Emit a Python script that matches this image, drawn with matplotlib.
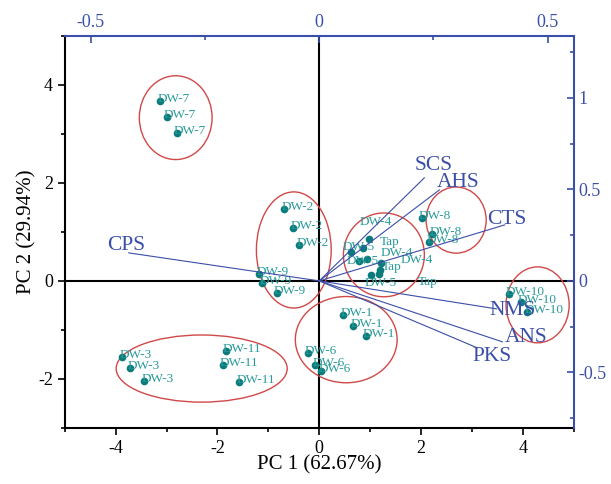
import matplotlib.pyplot as plt
from matplotlib.patches import Ellipse

plt.rcParams["font.family"] = ["Liberation Serif", "DejaVu Serif"]
plt.rcParams["axes.unicode_minus"] = False

# PCA scores (PC1, PC2)
score_labels = ["DW-7", "DW-7", "DW-7",
                "DW-2", "DW-2", "DW-2",
                "DW-9", "DW-9", "DW-9",
                "DW-1", "DW-1", "DW-1",
                "DW-6", "DW-6", "DW-6",
                "DW-3", "DW-3", "DW-3",
                "DW-11", "DW-11", "DW-11",
                "DW-8", "DW-8", "DW-8",
                "Tap", "DW-4", "DW-5", "DW-5", "DW-4", "DW-4", "Tap", "Tap", "DW-5",
                "DW-10", "DW-10", "DW-10"]
pc1 = [-3.12, -3.00, -2.80,
       -0.69, -0.51, -0.39,
       -1.18, -1.12, -0.83,
       0.47, 0.67, 0.92,
       -0.22, -0.08, 0.04,
       -3.87, -3.71, -3.44,
       -1.83, -1.89, -1.57,
       2.02, 2.22, 2.16,
       0.97, 0.85, 0.62, 0.79, 0.94, 1.21, 1.19, 1.17, 1.02,
       3.73, 3.96, 4.09]
pc2 = [3.67, 3.35, 3.02,
       1.47, 1.08, 0.73,
       0.14, -0.04, -0.24,
       -0.69, -0.92, -1.12,
       -1.47, -1.71, -1.84,
       -1.55, -1.78, -2.04,
       -1.43, -1.71, -2.06,
       1.29, 0.96, 0.80,
       0.86, 0.67, 0.59, 0.41, 0.45, 0.37, 0.22, 0.14, 0.12,
       -0.27, -0.44, -0.63]

# loadings (top / right axes)
load_names = ["CPS", "SCS", "AHS", "CTS", "NMS", "ANS", "PKS"]
load_x = [-0.417, 0.230, 0.263, 0.406, 0.388, 0.401, 0.346]
load_y = [0.153, 0.563, 0.497, 0.306, -0.153, -0.333, -0.366]

# group ellipses: centre x, centre y, width, height (score units)
ell_cx = [-2.82, -0.50, 1.27, 2.69, 0.53, -2.31, 4.29]
ell_cy = [3.33, 0.63, 0.53, 1.24, -1.20, -1.79, -0.49]
ell_w = [1.43, 1.47, 1.59, 1.18, 2.00, 3.36, 1.24]
ell_h = [1.71, 2.37, 1.71, 1.35, 1.76, 1.37, 1.55]

TEAL = "#0a7b7b"
TEAL_TXT = "#2a9a9a"
BLUE = "#3b4ea8"
RED = "#d04848"
PX = 0.72  # pixels -> points at dpi 100

# label offsets in pixels (dx, dy up); default for most points
lab_off = [(-3, 2)] * 24 + [(11, -3), (-3, 26), (-8, 5), (-13, 0), (14, 6),
                            (20, 3), (2, 3), (39, -8), (-7, -8)] + [(-3, 2)] * 3
load_off = [(-22, 7), (-10, 12), (-3, 7), (-18, 5), (-7, -2), (2, 4), (-5, -9)]

fig = plt.figure(figsize=(6.11, 4.84), dpi=100)
rect = [0.106, 0.116, 0.833, 0.810]
ax = fig.add_axes(rect)
ax.set_xlim(-5, 5)
ax.set_ylim(-3, 5)

ax.axhline(0, color="black", lw=1.5, zorder=1)
ax.axvline(0, color="black", lw=1.5, zorder=1)

for cx, cy, w, h in zip(ell_cx, ell_cy, ell_w, ell_h):
    ax.add_patch(Ellipse((cx, cy), w, h, fill=False, ec=RED, lw=1.0, zorder=2))

ax.plot(pc1, pc2, "o", color=TEAL, ms=4.5, zorder=4)
for x, y, lab, (dx, dy) in zip(pc1, pc2, score_labels, lab_off):
    ax.annotate(lab, (x, y), xytext=(dx * PX, dy * PX), textcoords="offset points",
                ha="left", va="center", fontsize=9.5, color=TEAL_TXT, zorder=5)

ax.set_xticks([-4, -2, 0, 2, 4])
ax.set_xticks([-5, -3, -1, 1, 3, 5], minor=True)
ax.set_yticks([-2, 0, 2, 4])
ax.set_yticks([-3, -1, 1, 3, 5], minor=True)
ax.tick_params(which="both", direction="out", labelsize=13, width=1.2)
ax.tick_params(which="major", length=5)
ax.tick_params(which="minor", length=3)
ax.spines["top"].set_visible(False)
ax.spines["right"].set_visible(False)
for s in ["left", "bottom"]:
    ax.spines[s].set_linewidth(1.5)
ax.set_xlabel("PC 1 (62.67%)", fontsize=15, labelpad=-1)
ax.set_ylabel("PC 2 (29.94%)", fontsize=15, labelpad=1)

# loading axes on top / right
ax2 = fig.add_axes(rect, facecolor="none")
ax2.set_xlim(-0.557, 0.557)
ax2.set_ylim(-0.803, 1.339)
for nm, lx, ly, (dx, dy) in zip(load_names, load_x, load_y, load_off):
    ax2.plot([0, lx], [0, ly], color=BLUE, lw=0.8, zorder=3)
    ax2.annotate(nm, (lx, ly), xytext=(dx * PX, dy * PX), textcoords="offset points",
                 ha="left", va="center", fontsize=15.5, color=BLUE)
ax2.xaxis.tick_top()
ax2.yaxis.tick_right()
ax2.set_xticks([-0.5, 0, 0.5])
ax2.set_xticklabels(["-0.5", "0", "0.5"])
ax2.set_xticks([-0.25, 0.25], minor=True)
ax2.set_yticks([-0.5, 0, 0.5, 1])
ax2.set_yticklabels(["-0.5", "0", "0.5", "1"])
ax2.set_yticks([-0.75, -0.25, 0.25, 0.75, 1.25], minor=True)
ax2.tick_params(which="both", direction="in", colors=BLUE, labelsize=13, width=1.2)
ax2.tick_params(which="major", length=5)
ax2.tick_params(which="minor", length=3)
ax2.spines["left"].set_visible(False)
ax2.spines["bottom"].set_visible(False)
for s in ["top", "right"]:
    ax2.spines[s].set_color(BLUE)
    ax2.spines[s].set_linewidth(1.5)

fig.savefig("out.png", dpi=100)
